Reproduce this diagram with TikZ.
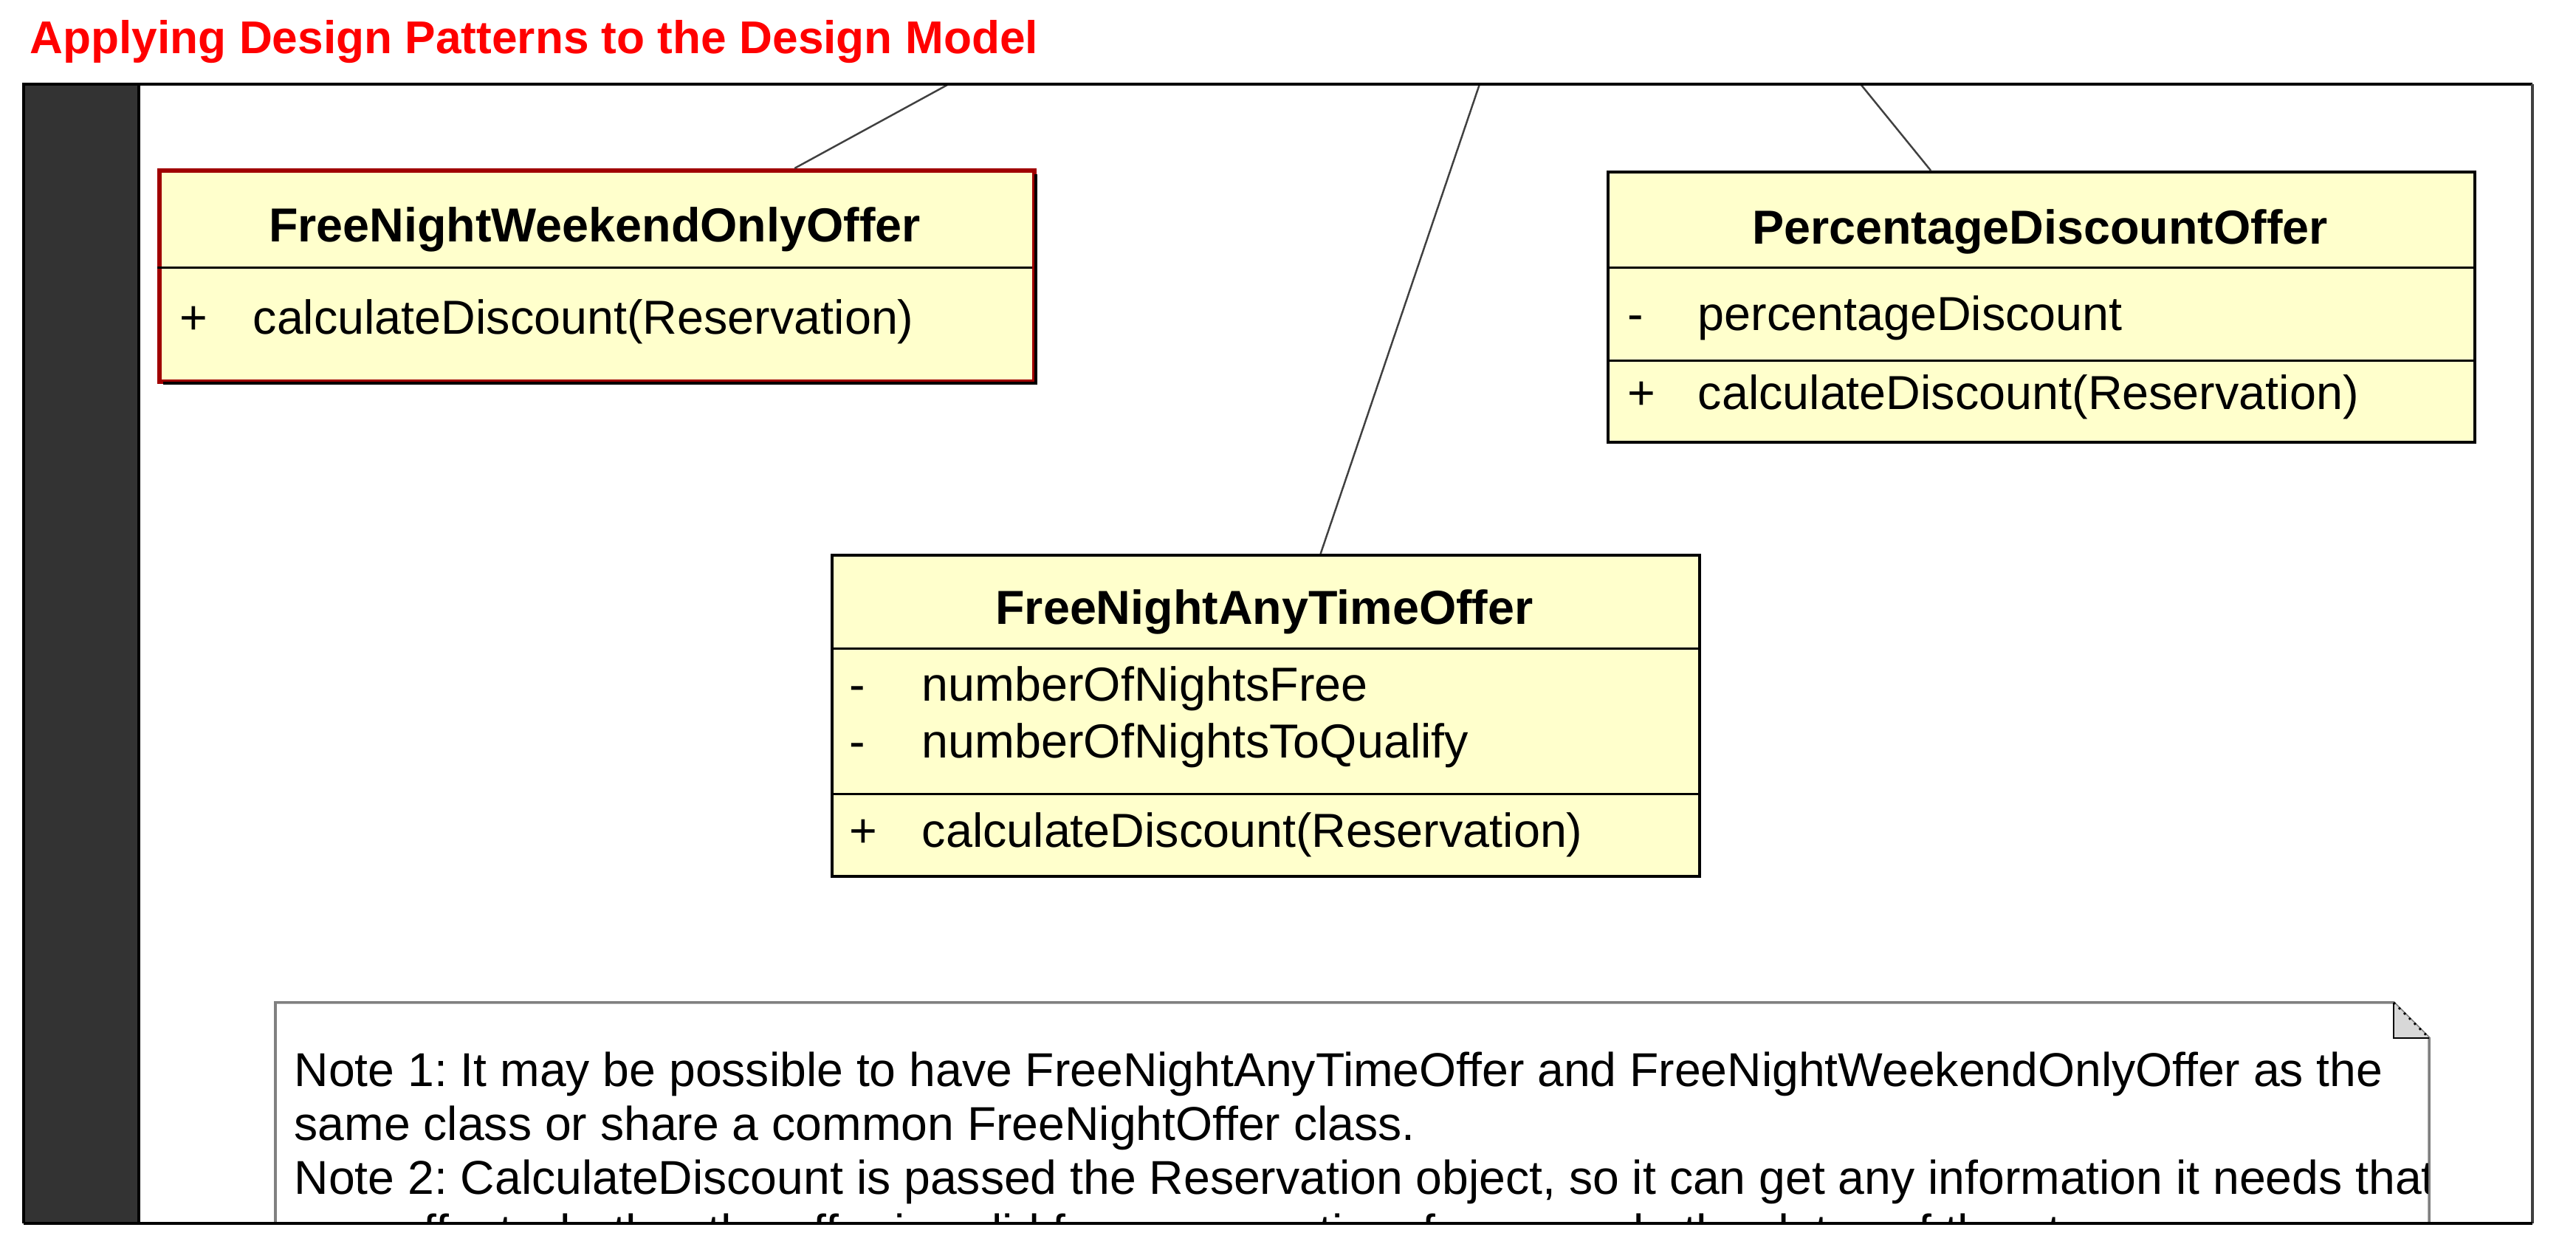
\documentclass[tikz,border=0pt]{standalone}
\usepackage{fontspec}
\setmainfont{Liberation Sans}
\usetikzlibrary{calc}
\frenchspacing

\definecolor{classfill}{RGB}{255,255,204}
\definecolor{stripgray}{RGB}{51,51,51}
\definecolor{foldgray}{RGB}{216,216,216}
\definecolor{offerred}{RGB}{160,0,0}
\definecolor{notegray}{RGB}{128,128,128}

\tikzset{
  classbox/.style={draw=black, line width=1.1pt, fill=classfill, inner sep=0pt, anchor=north west},
  classname/.style={anchor=base, inner sep=0pt, font=\fontsize{18.4}{21}\selectfont\bfseries},
  member/.style={anchor=base west, inner sep=0pt, font=\fontsize{18.4}{21}\selectfont},
  sepline/.style={line width=0.85pt},
  assoc/.style={line width=0.7pt, draw=black!75},
  notetext/.style={anchor=base west, inner sep=0pt, font=\fontsize{18.3}{21}\selectfont}
}

\begin{document}
\begin{tikzpicture}
\useasboundingbox (0,0) rectangle (34.89,16.89);
% Title
\node [anchor=base west, inner sep=0pt, text=red, font=\fontsize{17.7}{20}\selectfont\bfseries] (title) at (0.40,16.16) {Applying Design Patterns to the Design Model};
%
% Frame
\fill [stripgray] (0.32,0.32) rectangle (1.88,15.75);
\coordinate (up1) at (12.85,15.75);
\coordinate (up2) at (20.04,15.75);
\coordinate (up3) at (25.20,15.75);
%
\begin{scope}
\clip (1.88,0.32) rectangle (34.30,15.75);
%
\node [classbox, draw=offerred, line width=1.8pt, minimum width=11.85cm, minimum height=2.86cm] (weekend) at (2.13,14.61) {};
\draw [sepline] (2.13,13.26) -- (13.98,13.26);
\draw [line width=1.4pt] (2.21,11.70) -- (14.03,11.70) -- (14.03,14.53);
\node [classname] (weekendname) at (8.055,13.61) {FreeNightWeekendOnlyOffer};
\node [member] (weekendvis) at (2.43,12.36) {+};
\node [member] (weekendop) at (3.42,12.36) {calculateDiscount(Reservation)};
%
\node [classbox, minimum width=11.74cm, minimum height=3.66cm] (percent) at (21.76,14.58) {};
\draw [sepline] (21.76,13.26) -- (33.50,13.26);
\draw [sepline] (21.76,12.00) -- (33.50,12.00);
\draw [line width=1.2pt] (21.80,10.90) -- (33.52,10.90) -- (33.52,14.54);
\node [classname] (percentname) at (27.63,13.58) {PercentageDiscountOffer};
\node [member] (percentvis) at (22.04,12.41) {-};
\node [member] (percentattr) at (22.99,12.41) {percentageDiscount};
\node [member] (percentopvis) at (22.04,11.34) {+};
\node [member] (percentop) at (22.99,11.34) {calculateDiscount(Reservation)};
%
\node [classbox, minimum width=11.75cm, minimum height=4.35cm] (anytime) at (11.25,9.39) {};
\draw [sepline] (11.25,8.10) -- (23.00,8.10);
\draw [sepline] (11.25,6.13) -- (23.00,6.13);
\draw [line width=1.2pt] (11.29,5.02) -- (23.02,5.02) -- (23.02,9.35);
\node [classname] (anytimename) at (17.125,8.43) {FreeNightAnyTimeOffer};
\node [member] (anytimevisa) at (11.50,7.39) {-};
\node [member] (anytimefree) at (12.48,7.39) {numberOfNightsFree};
\node [member] (anytimevisb) at (11.50,6.62) {-};
\node [member] (anytimequal) at (12.48,6.62) {numberOfNightsToQualify};
\node [member] (anytimeopvis) at (11.50,5.41) {+};
\node [member] (anytimeop) at (12.48,5.41) {calculateDiscount(Reservation)};
%
\draw [assoc] (up1) -- (weekend);
\draw [assoc] (up2) -- (anytime);
\draw [assoc] (up3) -- (percent);
%
% Note
\draw [notegray, line width=1pt, fill=white] (3.73,-0.5) -- (3.73,3.31) -- (32.42,3.31) -- (32.90,2.83) -- (32.90,-0.5);
\fill [foldgray] (32.42,3.31) -- (32.42,2.83) -- (32.90,2.83) -- cycle;
\draw [line width=0.8pt] (32.42,3.31) -- (32.42,2.83) -- (32.90,2.83);
\draw [line width=0.8pt, dotted] (32.42,3.31) -- (32.90,2.83);
\begin{scope}
\clip (3.73,-0.5) rectangle (32.88,3.31);
\node [notetext] (noteone) at (3.98,2.17) {Note 1: It may be possible to have FreeNightAnyTimeOffer and FreeNightWeekendOnlyOffer as the};
\node [notetext] (notetwo) at (3.98,1.44) {same class or share a common FreeNightOffer class.};
\node [notetext] (notethree) at (3.98,0.71) {Note 2: CalculateDiscount is passed the Reservation object, so it can get any information it needs that};
\node [notetext] (notefour) at (3.98,-0.02) {may affect whether the offer is valid for a reservation, for example the dates of the stay.};
\end{scope}
\end{scope}
%
\draw [line width=1.1pt] (0.32,0.32) -- (0.32,15.75) -- (34.30,15.75);
\draw [black!75, line width=0.9pt] (34.30,15.75) -- (34.30,0.32);
\draw [line width=1.4pt] (0.32,0.32) -- (34.30,0.32);
\draw [line width=0.9pt] (1.88,0.32) -- (1.88,15.75);
%
\end{tikzpicture}
\end{document}
